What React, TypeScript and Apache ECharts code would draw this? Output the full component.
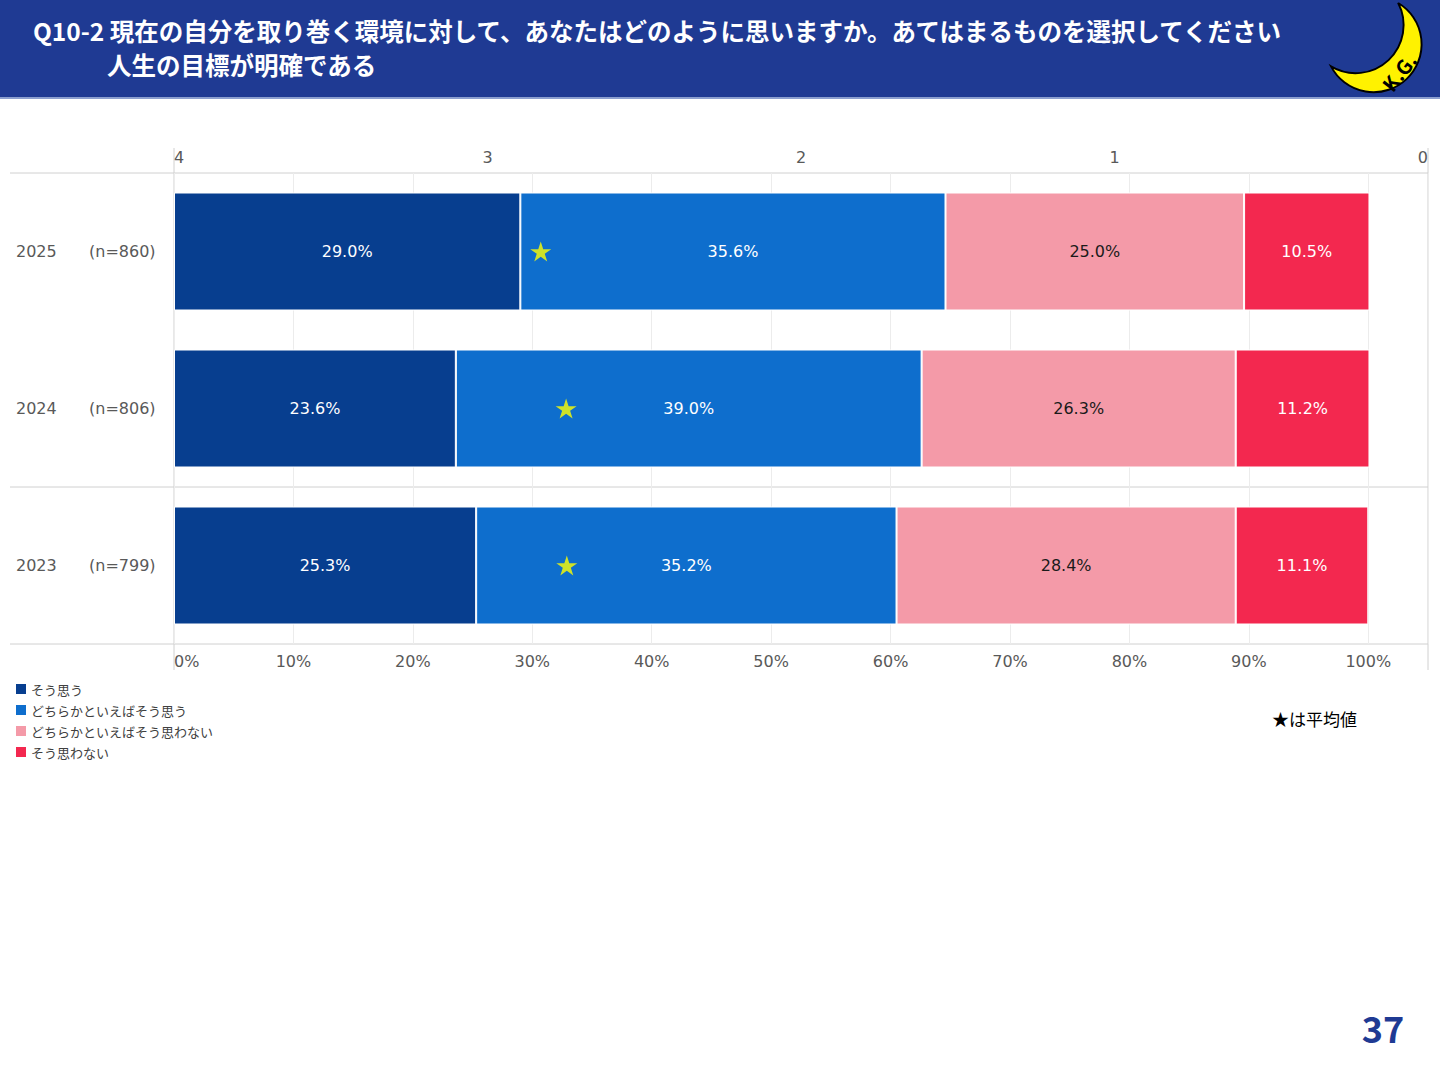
import React, { useEffect, useRef } from "react";
import * as echarts from "echarts";

const years = ["2025", "2024", "2023"];
const sampleSizes = [860, 806, 799];
const answers = [
  "そう思う",
  "どちらかといえばそう思う",
  "どちらかといえばそう思わない",
  "そう思わない",
];
const agree = [29.0, 23.6, 25.3];
const ratherAgree = [35.6, 39.0, 35.2];
const ratherDisagree = [25.0, 26.3, 28.4];
const disagree = [10.5, 11.2, 11.1];
// score given to each answer when the average (★) is worked out
const scores = [4, 3, 2, 1];

const colors = ["#073E8F", "#0E6ECD", "#F49AA8", "#F3284F"];
const labelColors = ["#ffffff", "#ffffff", "#1a1a1a", "#ffffff"];

const FONT = "'Noto Sans CJK JP', 'Noto Sans', sans-serif";
const NUM_FONT = "'DejaVu Sans', 'Noto Sans CJK JP', sans-serif";
const GRID_LEFT = 174;
const GRID_RIGHT = 1428;
const GRID_TOP = 173;
const GRID_BOTTOM = 644;
const FRAME = "#d0d0d0";

const moon = "M70,0 A50,50 0 1,1 0,66 A50,50 0 0,0 70,0 Z";
echarts.graphic.registerShape("moon", echarts.graphic.extendPath(moon, {}));

const STAR =
  "path://M0,-10 L2.245,-3.09 L9.51,-3.09 L3.633,1.18 L5.878,8.09 L0,3.82 L-5.878,8.09 L-3.633,1.18 L-9.51,-3.09 L-2.245,-3.09 Z";

const App = () => {
  const chartRef = useRef<HTMLDivElement>(null);

  useEffect(() => {
    const chart = echarts.init(chartRef.current as HTMLDivElement, null, {
      renderer: "svg",
    });

    const groups = [agree, ratherAgree, ratherDisagree, disagree];
    const means = years.map((_, i) => {
      let sum = 0;
      let total = 0;
      groups.forEach((g, k) => {
        sum += g[i] * scores[k];
        total += g[i];
      });
      return [sum / total, i];
    });

    const rowH = (GRID_BOTTOM - GRID_TOP) / years.length;
    const frameLine = (x1: number, y1: number, x2: number, y2: number) => ({
      type: "line",
      shape: { x1, y1, x2, y2 },
      style: { stroke: FRAME, lineWidth: 1 },
      silent: true,
    });

    const option = {
      animation: false,
      textStyle: { fontFamily: FONT },
      grid: {
        left: GRID_LEFT,
        right: 1440 - GRID_RIGHT,
        top: GRID_TOP,
        bottom: 1080 - GRID_BOTTOM,
        containLabel: false,
        outerBoundsMode: "none",
      },
      legend: {
        data: answers,
        orient: "vertical",
        left: 16,
        top: 681,
        padding: 0,
        itemWidth: 10,
        itemHeight: 10,
        itemGap: 5,
        icon: "rect",
        itemStyle: { borderWidth: 0 },
        textStyle: { fontSize: 13, color: "#404040", lineHeight: 16, fontFamily: FONT },
      },
      xAxis: [
        {
          type: "value",
          position: "bottom",
          min: 0,
          max: 105,
          interval: 10,
          axisLine: { show: false },
          axisTick: { show: false },
          splitLine: { show: true, lineStyle: { color: "#ececec", width: 1 } },
          axisLabel: {
            color: "#595959",
            fontSize: 16,
            fontFamily: NUM_FONT,
            margin: 9,
            alignMinLabel: "left",
            formatter: (v: number) => (v > 100 ? "" : `${v}%`),
          },
        },
        {
          type: "value",
          position: "top",
          min: 0,
          max: 4,
          interval: 1,
          inverse: true,
          axisLine: { show: false },
          axisTick: { show: false },
          splitLine: { show: false },
          axisLabel: {
            color: "#595959",
            fontSize: 16,
            fontFamily: NUM_FONT,
            margin: 8,
            alignMinLabel: "right",
            alignMaxLabel: "left",
          },
        },
      ],
      yAxis: {
        type: "category",
        data: years,
        inverse: true,
        axisLine: { show: false },
        axisTick: { show: false },
        axisLabel: {
          align: "left",
          margin: GRID_LEFT - 16,
          formatter: (v: string, i: number) => `{y|${v}}{n|(n=${sampleSizes[i]})}`,
          rich: {
            y: { width: 73, fontSize: 16, color: "#595959", fontFamily: NUM_FONT },
            n: { fontSize: 16, color: "#595959", fontFamily: NUM_FONT },
          },
        },
      },
      series: [
        ...groups.map((g, k) => ({
          name: answers[k],
          type: "bar",
          stack: "total",
          xAxisIndex: 0,
          barWidth: 118,
          data: g,
          itemStyle: { color: colors[k], borderColor: "#ffffff", borderWidth: 1 },
          label: {
            show: true,
            position: "inside",
            color: labelColors[k],
            fontSize: 16,
            fontFamily: NUM_FONT,
            formatter: (p: any) => `${Number(p.value).toFixed(1)}%`,
          },
        })),
        {
          name: "平均値",
          type: "scatter",
          xAxisIndex: 1,
          data: means,
          symbol: STAR,
          symbolSize: [21, 20],
          itemStyle: { color: "#FFFF00" },
          z: 5,
        },
      ],
      graphic: [
        {
          type: "rect",
          shape: { x: 0, y: 0, width: 1440, height: 97 },
          style: { fill: "#1F3A93" },
          silent: true,
        },
        {
          type: "line",
          shape: { x1: 0, y1: 98, x2: 1440, y2: 98 },
          style: { stroke: "#8c9fcf", lineWidth: 2 },
          silent: true,
        },
        {
          type: "text",
          x: 33,
          y: 30,
          style: {
            text: "Q10-2 現在の自分を取り巻く環境に対して、あなたはどのように思いますか。あてはまるものを選択してください",
            fill: "#ffffff",
            font: `bold 24.5px ${FONT}`,
            verticalAlign: "middle",
          },
        },
        {
          type: "text",
          x: 107,
          y: 64,
          style: {
            text: "人生の目標が明確である",
            fill: "#ffffff",
            font: `bold 24.5px ${FONT}`,
            verticalAlign: "middle",
          },
        },
        {
          type: "moon",
          x: 1331,
          y: 3,
          scaleX: 0.96,
          scaleY: 0.96,
          style: { fill: "#FFF200", stroke: "#000000", lineWidth: 2 },
        },
        {
          type: "text",
          x: 1399,
          y: 72,
          rotation: (52 * Math.PI) / 180,
          style: {
            text: "K.G.",
            fill: "#000000",
            font: `bold 20px ${FONT}`,
            align: "center",
            verticalAlign: "middle",
          },
        },
        frameLine(10, GRID_TOP, GRID_RIGHT, GRID_TOP),
        frameLine(10, GRID_TOP + 2 * rowH, GRID_RIGHT, GRID_TOP + 2 * rowH),
        frameLine(10, GRID_BOTTOM, GRID_RIGHT, GRID_BOTTOM),
        frameLine(GRID_LEFT, 148, GRID_LEFT, 670),
        frameLine(GRID_RIGHT, 148, GRID_RIGHT, 670),
        {
          type: "text",
          x: 1272,
          y: 718,
          style: {
            text: "★は平均値",
            fill: "#000000",
            font: `17px ${FONT}`,
            verticalAlign: "middle",
          },
        },
        {
          type: "text",
          x: 1383,
          y: 1027,
          style: {
            text: "37",
            fill: "#1F3A93",
            font: `bold 36px ${FONT}`,
            align: "center",
            verticalAlign: "middle",
          },
        },
      ],
    };

    chart.setOption(option as any);
    return () => {
      chart.dispose();
    };
  }, []);

  return (
    <div
      ref={chartRef}
      style={{ position: "fixed", left: 0, top: 0, width: "1440px", height: "1080px", background: "#ffffff" }}
    />
  );
};

export default App;
